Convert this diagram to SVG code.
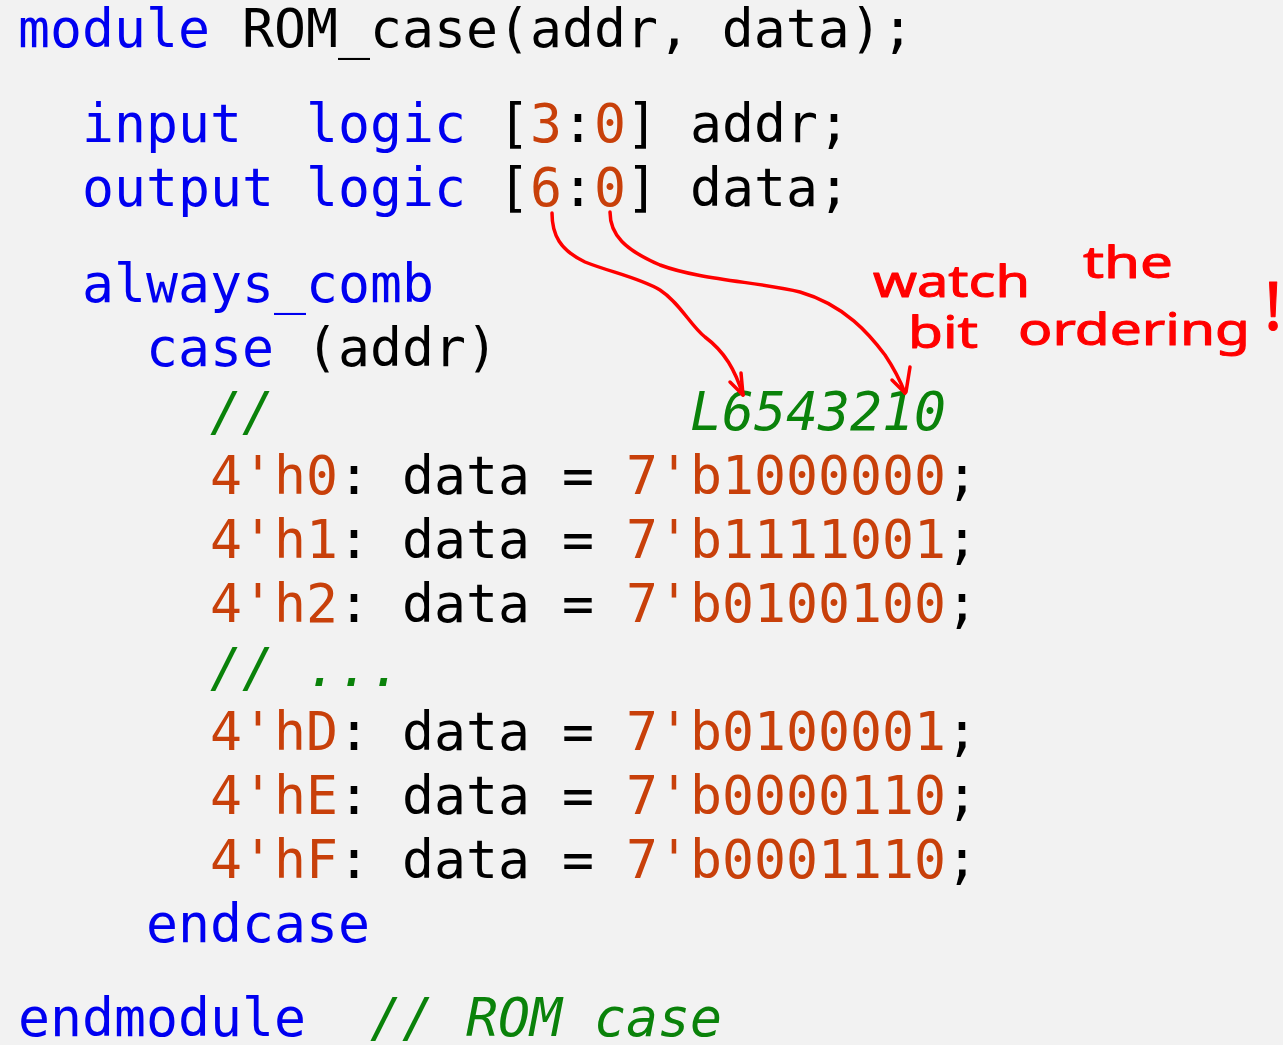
<svg xmlns="http://www.w3.org/2000/svg" width="1283" height="1045" viewBox="0 0 1283 1045">
<style>
.code{font-family:"DejaVu Sans Mono","Liberation Mono",monospace;font-size:53.15px;fill:#000}
.k{fill:#0000F0}
.n{fill:#C8400A}
.c{fill:#0A820A;font-style:italic}
.hand{font-family:"Noto Sans","DejaVu Sans",sans-serif;font-size:44px;fill:#FF0000;stroke:#FF0000;stroke-width:1;stroke-linejoin:round}
.ink{fill:none;stroke:#FF0000;stroke-width:3.5;stroke-linecap:round;stroke-linejoin:round}
</style>
<rect width="1283" height="1045" fill="#F2F2F2"/>
<g id="code" class="code">
<text x="18" y="47"><tspan class="k">module</tspan> ROM_case(addr, data);</text>
<text y="142"><tspan x="82" class="k">input</tspan><tspan x="306" class="k">logic</tspan> [<tspan class="n">3</tspan>:<tspan class="n">0</tspan>] addr;</text>
<text y="206"><tspan x="82" class="k">output</tspan> <tspan class="k">logic</tspan> [<tspan class="n">6</tspan>:<tspan class="n">0</tspan>] data;</text>
<text x="82" y="302" class="k">always_comb</text>
<text y="366"><tspan x="146" class="k">case</tspan> (addr)</text>
<text y="430" class="c"><tspan x="210">//</tspan><tspan x="690">L6543210</tspan></text>
<text y="494"><tspan x="210" class="n">4'h0</tspan>: data = <tspan class="n">7'b1000000</tspan>;</text>
<text y="558"><tspan x="210" class="n">4'h1</tspan>: data = <tspan class="n">7'b1111001</tspan>;</text>
<text y="622"><tspan x="210" class="n">4'h2</tspan>: data = <tspan class="n">7'b0100100</tspan>;</text>
<text x="210" y="686" class="c">// ...</text>
<text y="750"><tspan x="210" class="n">4'hD</tspan>: data = <tspan class="n">7'b0100001</tspan>;</text>
<text y="814"><tspan x="210" class="n">4'hE</tspan>: data = <tspan class="n">7'b0000110</tspan>;</text>
<text y="878"><tspan x="210" class="n">4'hF</tspan>: data = <tspan class="n">7'b0001110</tspan>;</text>
<text x="146" y="942" class="k">endcase</text>
<text y="1036"><tspan x="18" class="k">endmodule</tspan><tspan x="370" class="c">// ROM_case</tspan></text>
</g>
<g id="connectors">
<path class="ink" d="M552,213 C552,235 560,250 585,262 C610,272 640,278 660,290 C680,303 690,325 705,337 C725,352 735,370 743,395"/>
<path class="ink" d="M730,382 L743,395 M741,373 L743,395"/>
<path class="ink" d="M610,212 C610,235 625,250 660,265 C700,280 760,282 800,292 C845,305 870,335 885,355 C895,370 900,380 905,393"/>
<path class="ink" d="M892,380 L905,393 M910,367 L906,392"/>
</g>
<g id="note" class="hand">
<text><tspan x="873" y="297" textLength="157" lengthAdjust="spacingAndGlyphs">watch</tspan><tspan x="1083" y="278" textLength="90" lengthAdjust="spacingAndGlyphs">the</tspan></text>
<text><tspan x="908" y="348" textLength="70" lengthAdjust="spacingAndGlyphs">bit</tspan><tspan x="1018" y="345" textLength="232" lengthAdjust="spacingAndGlyphs">ordering</tspan><tspan x="1264" y="330" style="font-size:68px">!</tspan></text>
</g>
</svg>
